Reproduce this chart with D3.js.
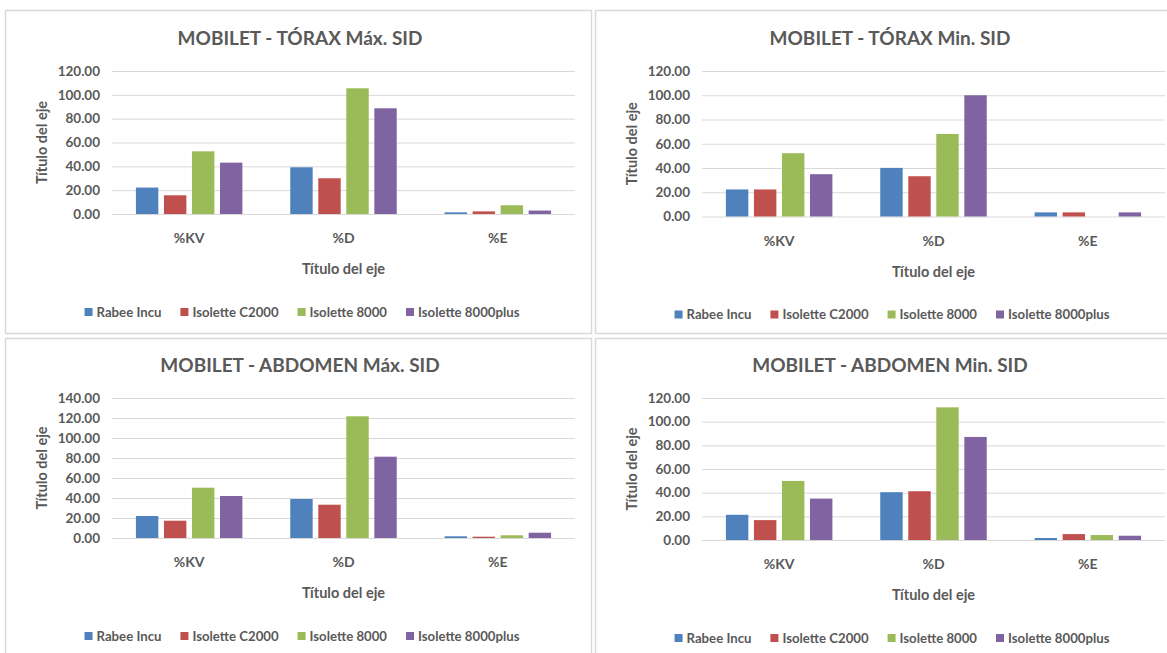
<!DOCTYPE html>
<html>
<head>
<meta charset="utf-8">
<script src="https://cdn.jsdelivr.net/npm/d3@7"></script>
<style>
  body { margin: 0; background: #fff; }
  svg { display: block; font-family: Lato, "Open Sans", sans-serif; }
</style>
</head>
<body>
<svg id="chart" width="1167" height="653"></svg>
<script>
// datos
const categories = ["%KV", "%D", "%E"];
const seriesNames = ["Rabee Incu", "Isolette C2000", "Isolette 8000", "Isolette 8000plus"];
const seriesColors = ["#4F81BD", "#C0504D", "#9BBB59", "#8064A2"];

// una fila por categoría: [Rabee Incu, Isolette C2000, Isolette 8000, Isolette 8000plus]
const toraxMax = [[22.2, 15.7, 52.6, 43.1], [39.2, 30.0, 105.5, 88.7], [1.4, 2.2, 7.3, 2.9]];
const toraxMin = [[22.3, 22.3, 52.2, 34.9], [40.1, 33.2, 68.1, 100.0], [3.4, 3.4, 0, 3.4]];
const abdomenMax = [[22.0, 17.3, 50.3, 42.0], [39.0, 33.3, 121.7, 81.3], [1.7, 1.3, 2.7, 5.3]];
const abdomenMin = [[21.3, 16.8, 49.9, 35.0], [40.4, 41.2, 112.1, 87.1], [1.7, 5.0, 4.2, 3.6]];

const ticks120 = [0, 20, 40, 60, 80, 100, 120];
const ticks140 = [0, 20, 40, 60, 80, 100, 120, 140];

const titles = ["MOBILET - TÓRAX Máx. SID", "MOBILET - TÓRAX Min. SID",
                "MOBILET - ABDOMEN Máx. SID", "MOBILET - ABDOMEN Min. SID"];
const axisTitle = "Título del eje";

const textColor = "#595959";
const gridColor = "#d9d9d9";

const svg = d3.select("#chart");

// posición de cada panel (x0, y0 = esquina; top/bottom = área del gráfico)
const panels = [
    { title: titles[0], values: toraxMax, ticks: ticks120, x0: 5, y0: 10, h: 323, top: 71, bottom: 214, titleY: 45 },
    { title: titles[1], values: toraxMin, ticks: ticks120, x0: 595, y0: 10, h: 323, top: 71, bottom: 216.5, titleY: 45 },
    { title: titles[2], values: abdomenMax, ticks: ticks140, x0: 5, y0: 338, h: 330, top: 398, bottom: 538, titleY: 372 },
    { title: titles[3], values: abdomenMin, ticks: ticks120, x0: 595, y0: 338, h: 330, top: 398, bottom: 540, titleY: 372 }
];

panels.forEach(p => drawPanel(svg, p));

function drawPanel(svg, p) {
    const panelW = 586;
    const g = svg.append("g");

    // marco del panel
    g.append("rect")
        .attr("x", p.x0 + 0.5)
        .attr("y", p.y0 + 0.5)
        .attr("width", panelW)
        .attr("height", p.h)
        .attr("fill", "#fff")
        .attr("stroke", gridColor)
        .attr("stroke-width", 1.5);

    const left = p.x0 + 107;
    const right = p.x0 + 570;

    const x = d3.scaleBand().domain(categories).range([left, right]);
    const groupW = x.bandwidth() * 0.69;
    const inner = d3.scaleBand().domain(seriesNames).range([0, groupW]).paddingInner(0.2);
    const y = d3.scaleLinear().domain([0, d3.max(p.ticks)]).range([p.bottom, p.top]);

    // eje Y + líneas de cuadrícula
    const yAxis = g.append("g")
        .attr("transform", `translate(${left},0)`)
        .call(d3.axisLeft(y)
            .tickValues(p.ticks)
            .tickFormat(d3.format(".2f"))
            .tickSizeInner(-(right - left))
            .tickSizeOuter(0)
            .tickPadding(12))
        .attr("font-family", null)
        .attr("font-size", null);
    yAxis.select(".domain").remove();
    yAxis.selectAll("line").attr("stroke", gridColor);
    yAxis.selectAll("text")
        .attr("fill", textColor)
        .style("font-size", "13.5px")
        .style("font-weight", "bold");

    // eje X (solo etiquetas)
    const xAxis = g.append("g")
        .attr("transform", `translate(0,${p.bottom})`)
        .call(d3.axisBottom(x).tickSize(0))
        .attr("font-family", null)
        .attr("font-size", null);
    xAxis.select(".domain").remove();
    xAxis.selectAll("text")
        .attr("y", 29)
        .attr("dy", null)
        .attr("fill", textColor)
        .style("font-size", "14px")
        .style("font-weight", "bold");

    // barras
    const bars = categories.flatMap((c, i) =>
        seriesNames.map((s, j) => ({ c, s, v: p.values[i][j], color: seriesColors[j] })));
    g.selectAll(".bar")
        .data(bars)
        .enter().append("rect")
        .attr("class", "bar")
        .attr("x", d => x(d.c) + (x.bandwidth() - groupW) / 2 + inner(d.s))
        .attr("y", d => y(d.v))
        .attr("width", inner.bandwidth())
        .attr("height", d => y(0) - y(d.v))
        .attr("fill", d => d.color);

    // título
    g.append("text")
        .attr("x", p.x0 + panelW / 2 + 2)
        .attr("y", p.titleY)
        .attr("text-anchor", "middle")
        .attr("fill", textColor)
        .style("font-size", "19px")
        .style("font-weight", "bold")
        .text(p.title);

    // títulos de los ejes
    g.append("text")
        .attr("x", (left + right) / 2)
        .attr("y", p.bottom + 60)
        .attr("text-anchor", "middle")
        .attr("fill", textColor)
        .style("font-size", "14.5px")
        .style("font-weight", "bold")
        .text(axisTitle);
    g.append("text")
        .attr("transform", `translate(${p.x0 + 37},${(p.top + p.bottom) / 2}) rotate(-90)`)
        .attr("text-anchor", "middle")
        .attr("dy", "0.35em")
        .attr("fill", textColor)
        .style("font-size", "14.5px")
        .style("font-weight", "bold")
        .text(axisTitle);

    // leyenda centrada en el panel
    const legend = g.append("g");
    const items = legend.selectAll("g")
        .data(seriesNames)
        .enter().append("g");
    items.append("rect")
        .attr("width", 8)
        .attr("height", 8)
        .attr("y", -4)
        .attr("fill", (d, i) => seriesColors[i]);
    items.append("text")
        .attr("x", 12)
        .attr("dy", "0.35em")
        .attr("fill", textColor)
        .style("font-size", "13.2px")
        .style("font-weight", "bold")
        .text(d => d);
    let offset = 0;
    const positions = [];
    items.each(function () {
        positions.push(offset);
        offset += 12 + this.querySelector("text").getComputedTextLength() + 19;
    });
    const totalW = offset - 19;
    const startX = p.x0 + panelW / 2 + 4 - totalW / 2;
    items.attr("transform", (d, i) => `translate(${startX + positions[i]},${p.bottom + 98})`);
}
</script>
</body>
</html>
